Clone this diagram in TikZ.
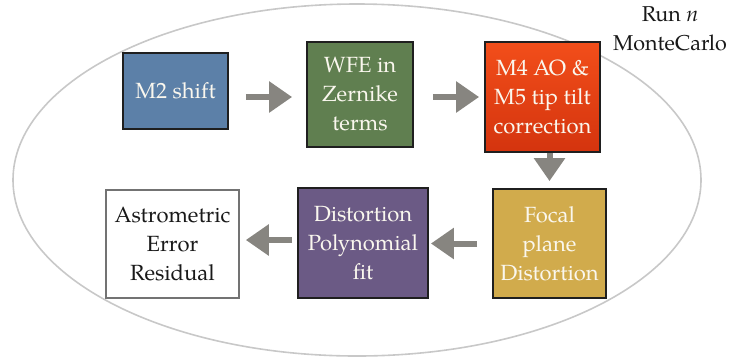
\documentclass[tikz,border=0pt]{standalone}
\usepackage{fontspec}
\setmainfont{texgyrepagella-regular.otf}[ItalicFont=texgyrepagella-italic.otf, BoldFont=texgyrepagella-bold.otf]
\usetikzlibrary{arrows.meta}
\definecolor{cblue}{RGB}{92,128,168}
\definecolor{cgreen}{RGB}{96,127,80}
\definecolor{corangeT}{RGB}{242,78,26}
\definecolor{corangeB}{RGB}{212,52,14}
\definecolor{cpurple}{RGB}{107,90,133}
\definecolor{cgold}{RGB}{209,171,76}
\definecolor{carrow}{RGB}{135,133,128}
\definecolor{cellipse}{RGB}{200,200,200}
\definecolor{ctext}{RGB}{250,247,238}
\tikzset{
  stepbox/.style={draw=black!88, line width=1.8pt, align=center, inner sep=0pt,
    text=ctext, font=\fontsize{22}{29}\selectfont},
  flowarrow/.style={draw=carrow, line width=6pt, -{Triangle[length=23pt,width=30pt]}},
  runlabel/.style={font=\fontsize{21.5}{29}\selectfont, text=black!90}
}
\begin{document}
\begin{tikzpicture}[x=1pt,y=-1pt]
\useasboundingbox (0,0) rectangle (730,360);
\draw[cellipse, line width=1.6pt] (357,180) ellipse [x radius=344, y radius=176];
\node[runlabel] (run) at (670,14) {Run \textit{n}};
\node[runlabel] (mc) at (670,43) {MonteCarlo};
\node[stepbox, fill=cblue, minimum width=105pt, minimum height=76pt] (m2) at (175.5,91) {M2 shift};
\node[stepbox, fill=cgreen, minimum width=106pt, minimum height=105pt] (wfe) at (360,94.5) {WFE in\\Zernike\\terms};
\node[stepbox, top color=corangeT, bottom color=corangeB, minimum width=115pt, minimum height=110pt] (m4) at (542.5,97) {M4 AO \&\\M5 tip tilt\\correction};
\node[stepbox, fill=cgold, minimum width=113pt, minimum height=109pt] (focal) at (549.5,243.5) {Focal\\plane\\Distortion};
\node[stepbox, fill=cpurple, minimum width=130pt, minimum height=110pt] (poly) at (363,243) {Distortion\\Polynomial\\fit};
\node[stepbox, fill=white, draw=black!55, line width=1.6pt, text=black!90, minimum width=133pt, minimum height=108pt] (astro) at (172.5,244) {Astrometric\\Error\\Residual};
\coordinate (a1s) at (m2.east |- m4.west);
\coordinate (a2s) at (wfe.east |- m4.west);
\draw[flowarrow, shorten <=17pt, shorten >=14pt] (a1s) -- (a1s -| wfe.west);
\draw[flowarrow, shorten <=19pt, shorten >=5pt] (a2s) -- (m4.west);
\draw[flowarrow, shorten <=0pt, shorten >=7pt] (m4.south -| focal.north) -- (focal.north);
\draw[flowarrow, shorten <=15pt, shorten >=2pt] (focal.west) -- (focal.west -| poly.east);
\draw[flowarrow, shorten <=5pt, shorten >=6pt] ([yshift=3pt]poly.west) -- ([yshift=3pt]poly.west -| astro.east);
\end{tikzpicture}
\end{document}
